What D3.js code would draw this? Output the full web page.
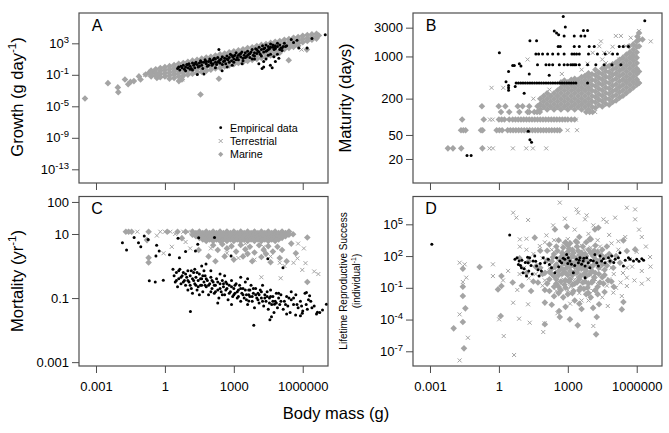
<!DOCTYPE html>
<html><head><meta charset="utf-8">
<script src="https://cdn.jsdelivr.net/npm/d3@7"></script>
<style>
body{margin:0;background:#fff}
svg{display:block}
text{font-family:"Liberation Sans",Arial,sans-serif;fill:#000}
</style>
</head><body><svg id="chart" width="669" height="433"></svg>
<script>
// ---------- DATA (all pairs are [log10 body mass (g), log10 value]) ----------
const massTicks = [0.001, 1, 1000, 1000000];
const massTickLabels = ["0.001", "1", "1000", "1000000"];
const growthTickExp = [3, -1, -5, -9, -13];
const maturityTicks = [3000, 1000, 200, 50, 20];
const mortalityTicks = [100, 10, 0.1, 0.001];
const lrsTickExp = [5, 2, -1, -4, -7];
const seriesNames = ["Empirical data", "Terrestrial", "Marine"];

// Panel A: growth (g/day)
const growthMarine = [
[-3.48,-4.0],[-2.48,-2.06],[-2.05,-2.6],[-2.03,-3.2],[-1.74,-1.6],[-1.6,-2.2],[-1.5,-1.9],[-1.35,-1.8],[-1.13,-1.2],[-1.06,-1.6],[-0.84,-0.97],[-0.7,-0.76],[-0.52,-0.67],[-0.35,-1.4],[-0.26,-1.2],[0.61,-1.8],[0.74,-1.6],[1.55,-3.5],[2.35,-1.5],[5.39,0.85],[6.18,2.2],
[-0.6,-0.45],[-0.6,-0.8],[-0.6,-1.2],[-0.4,-0.3],[-0.4,-0.7],[-0.4,-1.1],[-0.2,-0.15],[-0.2,-0.5],[-0.2,-0.9],[-0.2,-1.3],
[0,0],[0,-0.4],[0,-0.8],[0,-1.2],[0.2,0.1],[0.2,-0.3],[0.2,-0.7],[0.2,-1.1],[0.2,-1.5],[0.4,0.25],[0.4,-0.15],[0.4,-0.55],[0.4,-0.95],[0.4,-1.4],
[0.6,0.4],[0.6,0],[0.6,-0.4],[0.6,-0.8],[0.6,-1.2],[0.8,0.5],[0.8,0.1],[0.8,-0.3],[0.8,-0.7],[0.8,-1.1],[1.0,0.65],[1.0,0.25],[1.0,-0.15],[1.0,-0.55],[1.0,-1.0],
[1.2,0.8],[1.2,0.4],[1.2,0],[1.2,-0.4],[1.2,-0.85],[1.4,0.9],[1.4,0.5],[1.4,0.1],[1.4,-0.3],[1.4,-0.7],[1.6,1.05],[1.6,0.65],[1.6,0.25],[1.6,-0.15],[1.6,-0.6],
[1.8,1.2],[1.8,0.8],[1.8,0.4],[1.8,0],[1.8,-0.5],[2.0,1.3],[2.0,0.9],[2.0,0.5],[2.0,0.1],[2.0,-0.35],[2.2,1.45],[2.2,1.05],[2.2,0.65],[2.2,0.25],[2.2,-0.2],
[2.4,1.6],[2.4,1.2],[2.4,0.8],[2.4,0.4],[2.4,-0.1],[2.6,1.7],[2.6,1.3],[2.6,0.9],[2.6,0.5],[2.6,0.05],[2.8,1.85],[2.8,1.45],[2.8,1.05],[2.8,0.65],[2.8,0.2],
[3.0,2.0],[3.0,1.6],[3.0,1.2],[3.0,0.8],[3.0,0.35],[3.2,2.1],[3.2,1.7],[3.2,1.3],[3.2,0.9],[3.2,0.5],[3.4,2.25],[3.4,1.85],[3.4,1.45],[3.4,1.05],[3.4,0.6],
[3.6,2.4],[3.6,2.0],[3.6,1.6],[3.6,1.2],[3.6,0.75],[3.8,2.5],[3.8,2.1],[3.8,1.7],[3.8,1.3],[3.8,0.9],[4.0,2.65],[4.0,2.25],[4.0,1.85],[4.0,1.45],[4.0,1.0],
[4.2,2.8],[4.2,2.4],[4.2,2.0],[4.2,1.6],[4.2,1.15],[4.4,2.9],[4.4,2.5],[4.4,2.1],[4.4,1.7],[4.4,1.3],[4.6,3.05],[4.6,2.65],[4.6,2.25],[4.6,1.85],[4.6,1.45],
[4.8,3.2],[4.8,2.8],[4.8,2.4],[4.8,2.0],[4.8,1.6],[5.0,3.3],[5.0,2.9],[5.0,2.5],[5.0,2.1],[5.0,1.8],[5.2,3.45],[5.2,3.05],[5.2,2.65],[5.2,2.25],
[5.4,3.55],[5.4,3.15],[5.4,2.75],[5.4,2.4],[5.6,3.7],[5.6,3.3],[5.6,2.9],[5.6,2.55],[5.8,3.8],[5.8,3.4],[5.8,3.0],[5.8,2.7],
[6.0,3.95],[6.0,3.55],[6.0,3.15],[6.2,4.05],[6.2,3.65],[6.2,3.3],[6.4,4.15],[6.4,3.8],[6.4,3.45],[6.6,4.2],[6.6,3.9],[6.6,3.6],[6.7,4.0]
];
const growthTerrestrial = [[0.75,-1.6],[-0.35,-0.9],[5.95,2.2],[1.3,-0.8],[3.5,1.0],[2.0,0.2],[-0.85,-1.0]];
const growthEmpirical = [
[0.55,-0.2],[0.6,0],[0.65,-0.4],[0.7,0.1],[0.75,-0.1],[0.8,0.2],[0.85,-0.3],[0.9,0],[0.95,0.3],[1.0,-0.1],[1.05,0.4],[1.1,0.1],[1.15,-0.2],[1.2,0.5],[1.25,0.2],[1.3,-0.1],[1.35,0.6],[1.4,0.3],[1.45,0],[1.5,0.5],
[1.55,0.8],[1.6,0.2],[1.65,-0.2],[1.7,0.6],[1.75,0.9],[1.8,0.4],[1.85,0.1],[1.9,0.7],[1.95,1.0],[2.0,0.5],[2.05,0.2],[2.1,0.9],[2.15,1.1],[2.2,0.6],[2.25,0.3],[2.3,1.2],[2.35,0.8],[2.4,0.5],[2.45,1.0],[2.5,1.3],
[2.55,0.7],[2.6,1.1],[2.65,0.4],[2.7,1.4],[2.75,0.9],[2.8,1.2],[2.85,1.6],[2.9,0.8],[2.95,1.3],[3.0,1.0],[3.05,1.5],[3.1,1.8],[3.15,1.2],[3.2,0.9],[3.25,1.6],[3.3,1.3],[3.35,1.9],[3.4,1.1],[3.45,1.5],[3.5,1.8],
[3.55,1.3],[3.6,2.0],[3.65,1.6],[3.7,1.2],[3.75,1.9],[3.8,2.2],[3.85,1.5],[3.9,1.8],[3.95,2.3],[4.0,1.7],[4.05,2.0],[4.1,2.5],[4.15,1.6],[4.2,2.2],[4.25,2.7],[4.3,1.9],[4.35,2.4],[4.4,2.8],[4.45,2.1],[4.5,2.6],
[4.55,2.3],[4.6,2.9],[4.7,2.5],[4.75,2.2],[4.8,2.7],[4.9,3.0],[5.0,2.8],[5.05,2.4],[5.15,2.6],[5.2,3.0],[5.3,2.7],
[1.41,-0.97],[1.7,-0.9],[2.49,-0.5],[2.71,0],[2.93,0.2],[3.36,0.4],[4.23,-0.2],[4.3,0],[4.59,0.2],[4.67,-0.1],[4.3,0.7],[4.09,0.4],[4.81,0.7],[4.96,1.1],[4.74,1.3],[5.25,2.6],[4.81,2.4],[5.1,2.4],
[5.83,2.4],[6.19,2.4],[5.75,3.4],[6.98,4.1],[2.35,2.2],[4.5,1.5],[4.4,1.0],[4.9,1.6],[5.6,3.1],[5.5,3.5],[6.4,3.6],
[1.0,0.3],[1.1,-0.3],[1.3,0.4],[1.5,0.1],[1.6,0.6],[1.8,0.7],[1.9,0.2],[2.0,0.8],[2.1,0.4],[2.2,1.0],[2.3,0.6],[2.4,0.9],[2.5,0.3],[2.6,0.8],[2.7,1.0],[2.8,0.6],[2.9,1.5],[3.0,1.4],
[3.1,0.9],[3.2,1.5],[3.3,1.7],[3.4,0.8],[3.5,1.2],[3.6,1.5],[3.7,1.7],[3.8,1.0],[3.9,1.4],[4.0,2.2],[4.1,1.9],[4.2,1.4],[4.3,2.3],[4.4,2.0],[4.5,2.2],[4.6,2.5],[4.7,2.8],[4.8,2.3],
[4.9,2.6],[5.0,2.2],[1.2,-0.4],[0.9,-0.5],[2.2,-0.1],[3.0,0.6],[3.9,1.0],[4.6,1.6],[5.1,2.1]
];

// Panel B: age at maturity (days)
const maturityMarine = [
[-2.22,1.477],[-2.0,1.477],[-1.64,1.477],[-0.72,1.477],
[-1.65,1.778],[-1.55,1.778],[-1.45,1.778],[-0.78,1.778],[-0.71,1.778],[-0.1,1.778],[0.02,1.778],[0.14,1.778],[0.38,1.778],[0.5,1.778],[0.62,1.778],[0.74,1.778],[0.86,1.778],[0.98,1.778],[1.1,1.778],[1.22,1.778],[1.34,1.778],[1.46,1.778],[1.58,1.778],[1.7,1.778],[1.82,1.778],[1.94,1.778],[2.06,1.778],[2.18,1.778],[2.3,1.778],[2.42,1.778],[2.54,1.778],[2.65,1.778],
[-1.6,1.954],[-0.66,1.954],[0,1.954],[0.12,1.954],[0.24,1.954],[0.45,1.954],[0.6,1.954],[0.72,1.954],[0.84,1.954],[0.96,1.954],[1.08,1.954],[1.2,1.954],[1.32,1.954],[1.44,1.954],[1.56,1.954],[1.68,1.954],[1.8,1.954],[1.92,1.954],[2.04,1.954],[2.16,1.954],[2.28,1.954],[2.4,1.954],[2.52,1.954],[2.64,1.954],[2.76,1.954],[2.88,1.954],[3.0,1.954],[3.15,1.954],[3.3,1.954],
[0.09,2.079],[0.45,2.079],[0.89,2.079],[1.25,2.079],[1.32,2.079],[1.54,2.079],[1.66,2.079],[1.78,2.079],[3.8,2.079],[3.95,2.079],[4.08,2.079],
[-0.74,2.176],[-0.01,2.176],[0.28,2.176],[0.82,2.176],[1.03,2.176],[1.32,2.176],[1.68,2.176],
[1.8,2.12],[1.8,2.21],[1.8,2.3],[1.95,2.165],[1.95,2.255],[1.95,2.345],[2.1,2.12],[2.1,2.21],[2.1,2.3],[2.1,2.39],[2.25,2.165],[2.25,2.255],[2.25,2.345],
[2.4,2.12],[2.4,2.21],[2.4,2.3],[2.4,2.39],[2.55,2.165],[2.55,2.255],[2.55,2.345],[2.55,2.435],
[2.7,2.12],[2.7,2.21],[2.7,2.3],[2.7,2.39],[2.7,2.48],[2.7,2.57],[2.85,2.165],[2.85,2.255],[2.85,2.345],[2.85,2.435],[2.85,2.525],[2.85,2.6],
[3.0,2.12],[3.0,2.21],[3.0,2.3],[3.0,2.39],[3.0,2.48],[3.0,2.57],[3.15,2.165],[3.15,2.255],[3.15,2.345],[3.15,2.435],[3.15,2.525],[3.15,2.615],
[3.3,2.12],[3.3,2.21],[3.3,2.3],[3.3,2.39],[3.3,2.48],[3.3,2.57],[3.3,2.63],[3.45,2.165],[3.45,2.255],[3.45,2.345],[3.45,2.435],[3.45,2.525],[3.45,2.615],
[3.6,2.12],[3.6,2.21],[3.6,2.3],[3.6,2.39],[3.6,2.48],[3.6,2.57],[3.6,2.66],[3.75,2.165],[3.75,2.255],[3.75,2.345],[3.75,2.435],[3.75,2.525],[3.75,2.615],[3.75,2.68],
[3.9,2.12],[3.9,2.21],[3.9,2.3],[3.9,2.39],[3.9,2.48],[3.9,2.57],[3.9,2.66],[3.9,2.72],[4.05,2.165],[4.05,2.255],[4.05,2.345],[4.05,2.435],[4.05,2.525],[4.05,2.615],[4.05,2.705],
[4.2,2.15],[4.2,2.24],[4.2,2.33],[4.2,2.42],[4.2,2.51],[4.2,2.6],[4.2,2.69],[4.2,2.78],[4.35,2.195],[4.35,2.285],[4.35,2.375],[4.35,2.465],[4.35,2.555],[4.35,2.645],[4.35,2.735],
[4.5,2.17],[4.5,2.26],[4.5,2.35],[4.5,2.44],[4.5,2.53],[4.5,2.62],[4.5,2.71],[4.5,2.8],[4.65,2.215],[4.65,2.305],[4.65,2.395],[4.65,2.485],[4.65,2.575],[4.65,2.665],[4.65,2.755],[4.65,2.82],
[4.8,2.2],[4.8,2.29],[4.8,2.38],[4.8,2.47],[4.8,2.56],[4.8,2.65],[4.8,2.74],[4.8,2.84],[4.95,2.245],[4.95,2.335],[4.95,2.425],[4.95,2.515],[4.95,2.605],[4.95,2.695],[4.95,2.785],[4.95,2.87],
[5.1,2.27],[5.1,2.36],[5.1,2.45],[5.1,2.54],[5.1,2.63],[5.1,2.72],[5.1,2.81],[5.1,2.9],[5.25,2.315],[5.25,2.405],[5.25,2.495],[5.25,2.585],[5.25,2.675],[5.25,2.765],[5.25,2.855],[5.25,2.945],
[5.4,2.35],[5.4,2.44],[5.4,2.53],[5.4,2.62],[5.4,2.71],[5.4,2.8],[5.4,2.89],[5.4,2.98],[5.55,2.395],[5.55,2.485],[5.55,2.575],[5.55,2.665],[5.55,2.755],[5.55,2.845],[5.55,2.935],[5.55,3.03],
[5.7,2.44],[5.7,2.53],[5.7,2.62],[5.7,2.71],[5.7,2.8],[5.7,2.89],[5.7,2.98],[5.7,3.07],[5.85,2.485],[5.85,2.575],[5.85,2.665],[5.85,2.755],[5.85,2.845],[5.85,2.935],[5.85,3.025],[5.85,3.115],[5.85,3.2],
[6.0,2.53],[6.0,2.62],[6.0,2.71],[6.0,2.8],[6.0,2.89],[6.0,2.98],[6.0,3.07],[6.0,3.16],[6.0,3.25],
[6.1,2.56],[6.1,2.75],[6.1,3.17],[6.1,3.28],[6.1,3.39],[6.25,3.28],[6.03,3.33],[5.82,3.0],[5.96,2.75],[6.08,2.56],[5.67,3.17]
];
const maturityTerrestrial = [
[-0.41,1.477],[-0.26,1.477],[0.61,1.477],[1.19,1.477],[1.48,1.477],[2.06,1.477],[2.99,1.778],[3.4,1.778],[3.35,1.954],[-0.27,1.954],[-0.39,1.954],[4.19,2.079],
[-0.32,2.48],[0.19,2.48],[1.25,2.95],[2.74,2.71],[4.44,3.25],[5.09,3.34],[5.31,3.34],[5.74,3.31],[4.37,3.17],[4.58,3.06],[4.95,3.16],[4.8,3.06],[4.08,3.06],[3.86,2.88],
[4.66,2.89],[4.92,2.86],[5.24,2.95],[6.1,3.42],[6.61,3.25],[5.53,3.17],[5.82,3.06],[3.6,2.78],[2.2,2.45],[1.5,2.3],[5.0,2.7],[4.5,2.95]
];
const maturityEmpirical = [
[0.75,2.562],[0.85,2.562],[0.95,2.562],[1.05,2.562],[1.15,2.562],[1.25,2.562],[1.35,2.562],[1.45,2.562],[1.55,2.562],[1.65,2.562],[1.75,2.562],[1.85,2.562],[1.95,2.562],[2.05,2.562],
[2.15,2.562],[2.25,2.562],[2.35,2.562],[2.45,2.562],[2.55,2.562],[2.65,2.562],[2.75,2.562],[2.85,2.562],[2.95,2.562],[3.05,2.562],[3.15,2.562],[3.25,2.562],[3.35,2.562],[3.86,2.562],
[1.68,2.863],[2.05,2.863],[2.19,2.863],[2.34,2.863],[2.63,2.863],[2.84,2.863],[2.99,2.863],[3.13,2.863],[3.21,2.863],[3.28,2.863],[3.35,2.863],[3.5,2.863],[3.86,2.863],[4.22,2.863],[4.58,2.863],[4.92,2.863],[5.31,2.863],
[1.61,3.039],[1.73,3.039],[1.9,3.039],[2.12,3.039],[2.34,3.039],[2.58,3.039],[2.84,3.039],[3.18,3.039],[3.28,3.039],[3.38,3.039],[3.5,3.039],[3.9,3.039],[4.29,3.039],[4.63,3.039],[4.95,3.039],[5.16,3.039],
[2.58,3.164],[2.67,3.164],[3.28,3.164],[3.5,3.164],[3.93,3.164],[4.15,3.164],[5.24,3.164],[5.41,3.164],[5.64,3.164],
[1.35,3.261],[1.64,3.261],[2.84,3.34],[3.28,3.34],[3.57,3.34],[3.74,3.34],[2.6,3.36],[3.68,3.43],[3.86,3.43],[2.41,3.42],
[2.8,3.66],[2.89,3.49],[2.51,3.39],[6.35,3.59],[0.02,3.06],[0.42,2.75],[0.6,2.85],[0.67,2.85],[0.89,2.88],[0.96,2.84],[1.32,2.71],[2.19,2.69],
[0.31,2.58],[0.42,2.52],[0.42,2.48],[0.42,2.44],[0.71,2.5],[1.1,2.39],[1.28,1.76],[1.35,1.62],[1.42,1.58],[-1.39,1.36],[-1.21,1.36]
];

// Panel C: mortality (1/yr)
const mortalityMarine = [
[-1.7,1.07],[-1.58,1.07],[-1.45,1.07],[-0.71,1.07],[0.1,1.07],[0.55,1.07],[0.9,1.07],[-0.78,0.81],[-0.71,0.26],[-0.71,0.11],[0.74,0.87],[1.47,0.5],[1.9,0.3],
[1.2,1.08],[1.2,0.98],[1.35,1.03],[1.35,0.93],[1.5,1.08],[1.5,0.98],[1.5,0.88],[1.65,1.03],[1.65,0.93],[1.65,0.83],
[1.8,1.08],[1.8,0.98],[1.8,0.88],[1.8,0.78],[1.95,1.03],[1.95,0.93],[1.95,0.83],[2.1,1.08],[2.1,0.98],[2.1,0.88],[2.1,0.78],[2.25,1.03],[2.25,0.93],[2.25,0.83],
[2.4,1.08],[2.4,0.98],[2.4,0.88],[2.4,0.78],[2.55,1.03],[2.55,0.93],[2.55,0.83],[2.7,1.08],[2.7,0.98],[2.7,0.88],[2.7,0.78],[2.85,1.03],[2.85,0.93],[2.85,0.83],
[3.0,1.08],[3.0,0.98],[3.0,0.88],[3.0,0.78],[3.15,1.03],[3.15,0.93],[3.15,0.83],[3.3,1.08],[3.3,0.98],[3.3,0.88],[3.3,0.78],[3.45,1.03],[3.45,0.93],[3.45,0.83],
[3.6,1.08],[3.6,0.98],[3.6,0.88],[3.6,0.78],[3.75,1.03],[3.75,0.93],[3.75,0.83],[3.9,1.08],[3.9,0.98],[3.9,0.88],[3.9,0.78],[4.05,1.03],[4.05,0.93],[4.05,0.83],
[4.2,1.08],[4.2,0.98],[4.2,0.88],[4.2,0.78],[4.35,1.03],[4.35,0.93],[4.35,0.83],[4.5,1.08],[4.5,0.98],[4.5,0.88],[4.5,0.78],[4.65,1.03],[4.65,0.93],[4.65,0.83],
[4.8,1.08],[4.8,0.98],[4.8,0.88],[4.8,0.78],[4.95,1.03],[4.95,0.93],[4.95,0.83],[5.1,1.08],[5.1,0.98],[5.1,0.88],[5.25,1.03],[5.25,0.93],[5.4,1.08],[5.4,0.98],
[5.58,0.99],[6.2,0.89],[6.2,-0.5],
[2.1,0.65],[2.3,0.5],[2.5,0.68],[2.7,0.55],[2.9,0.62],[3.1,0.45],[3.3,0.66],[3.5,0.52],[3.7,0.6],[3.9,0.42],[4.1,0.65],[4.3,0.5],[4.5,0.62],[4.7,0.45],[4.9,0.6],[5.1,0.5],
[2.6,0.3],[3.0,0.2],[3.4,0.3],[3.8,0.15],[4.2,0.28],[4.6,0.12],[5.0,0.25],[5.3,0.15],[4.4,0.38],[3.6,0.38],[2.2,0.15],[5.5,0.7],[5.7,0.4]
];
const mortalityTerrestrial = [
[-1.2,1.07],[-0.2,1.07],[0,1.07],[0.24,1.07],[0.45,1.0],[0.8,1.07],[1.0,1.07],[-0.35,0.95],[-0.06,0.4],[0.3,0.6],[0.9,0.75],[1.1,0.55],
[6.05,0.55],[6.12,0.09],[5.98,-0.12],[6.5,-0.17],[6.68,-0.25],[5.77,0.24],[5.04,-0.38],[5.21,0],[4.2,-0.35],[5.8,0.7],[5.0,0.1],[4.6,0.3],[3.9,0.2],[3.2,0.25],
[2.0,0.55],[2.7,0.4],[3.5,0.7],[4.3,0.6],[5.6,0.1]
];
const mortalityEmpirical = [
[-1.85,0.73],[-1.67,0.5],[-1.34,0.89],[-1.15,0.73],[-1.05,0.6],[-0.9,0.94],[-0.73,0.83],[-0.36,0.65],[-0.39,0.31],[-0.25,0.47],[0.57,0.87],[0.63,0.26],[1.33,0.47],[1.43,0.68],[1.79,0.06],
[2.16,0.89],[2.88,0.31],[4.48,0.23],[5.14,-0.05],[-0.68,-0.46],[-0.42,-0.5],[-0.07,-0.44],[1.11,-1.42],[3.87,-1.85],[6.74,-1.45],[7.03,-1.19],[4.77,-1.19],[1.47,0.88],[0.2,0.35],[0.9,0.45],
[4.57,-1.68],[4.64,-1.58],[5.69,-1.53],[5.98,-1.47],[6.64,-1.44],[6.86,-1.37],[3.65,-1.09],
[0.35,-0.1],[0.4,-0.3],[0.45,-0.5],[0.5,-0.2],[0.55,-0.65],[0.6,-0.4],[0.65,-0.1],[0.7,-0.55],[0.75,-0.3],[0.8,-0.2],[0.85,-0.45],[0.9,-0.6],[0.95,-0.35],[1.0,-0.15],
[1.05,-0.5],[1.1,-0.3],[1.15,-0.7],[1.2,-0.4],[1.25,-0.2],[1.3,-0.55],[1.35,-0.35],[1.4,-0.75],[1.45,-0.45],[1.5,-0.25],[1.55,-0.6],[1.6,-0.4],[1.65,-0.8],[1.7,-0.5],[1.75,-0.3],
[1.8,-0.65],[1.85,-0.45],[1.9,-0.9],[1.95,-0.55],[2.0,-0.35],[1.3,-0.1],[1.5,-0.9],[1.2,-0.85],[1.7,-0.15],[1.0,-0.75],
[2.05,-0.7],[2.1,-0.5],[2.15,-0.85],[2.2,-0.6],[2.25,-0.4],[2.3,-0.75],[2.35,-1.0],[2.4,-0.55],[2.45,-0.8],[2.5,-0.45],[2.55,-0.65],[2.6,-0.9],[2.65,-0.5],[2.7,-0.7],[2.75,-1.05],
[2.8,-0.6],[2.85,-0.8],[2.9,-0.45],[2.95,-0.95],[3.0,-0.7],[2.6,-0.3],[2.3,-1.15],[2.9,-1.2],
[3.05,-0.85],[3.1,-0.55],[3.15,-1.0],[3.2,-0.75],[3.25,-0.6],[3.3,-1.1],[3.35,-0.85],[3.4,-0.7],[3.45,-1.0],[3.5,-0.5],[3.55,-0.9],[3.6,-1.2],[3.65,-0.75],[3.7,-0.95],[3.75,-0.6],
[3.8,-1.1],[3.85,-0.85],[3.9,-1.3],[3.95,-0.7],[4.0,-1.0],[3.3,-0.35],[3.6,-0.4],
[4.05,-0.85],[4.1,-1.15],[4.15,-0.75],[4.2,-1.0],[4.25,-0.6],[4.3,-1.25],[4.35,-0.9],[4.4,-1.1],[4.45,-0.8],[4.5,-1.35],[4.55,-1.0],[4.6,-0.75],[4.65,-1.2],[4.7,-0.95],[4.75,-1.45],
[4.8,-1.1],[4.85,-0.85],[4.9,-1.3],[4.95,-1.0],[5.0,-1.2],
[5.05,-0.9],[5.15,-1.35],[5.2,-1.1],[5.3,-0.95],[5.35,-1.25],[5.45,-1.45],[5.5,-1.05],[5.6,-1.2],[5.7,-0.9],[5.8,-1.3],[5.9,-1.1],[6.0,-1.4],[6.1,-0.85],[6.15,-1.2],[6.25,-1.05],[6.3,-0.93],[6.4,-1.3],[6.16,-0.83],[5.5,-0.8],
[0.5,-0.45],[0.6,-0.15],[0.7,-0.35],[0.8,-0.5],[0.9,-0.25],[1.0,-0.45],[1.1,-0.6],[1.15,-0.15],[1.25,-0.45],[1.35,-0.6],[1.4,-0.2],[1.45,-0.65],[1.55,-0.4],[1.6,-0.6],[1.65,-0.3],
[1.75,-0.6],[1.8,-0.4],[1.9,-0.6],[2.0,-0.8],[2.05,-0.45],[2.15,-0.6],[2.2,-0.8],[2.3,-0.5],[2.4,-0.7],[2.5,-0.9],[2.55,-0.55],[2.65,-0.75],[2.7,-0.55],[2.8,-0.85],[2.9,-0.65],
[3.0,-0.9],[3.05,-0.6],[3.15,-0.8],[3.2,-0.95],[3.3,-0.7],[3.4,-0.9],[3.5,-0.75],[3.55,-1.05],[3.65,-0.9],[3.7,-0.75],[3.8,-0.95],[3.85,-0.7],[3.95,-0.9],[4.05,-1.05],[4.1,-0.9],
[4.2,-0.8],[4.25,-1.1],[4.35,-1.0],[4.45,-0.95],[4.55,-1.15],[4.6,-0.95],[4.7,-1.1],[4.85,-1.15],[4.95,-0.85],[5.05,-1.1],[5.25,-1.2],[5.4,-1.0],[5.6,-1.0],[5.75,-1.2],[5.95,-1.25],
[6.2,-1.35],[6.35,-1.1],[6.5,-1.25],[6.6,-1.5],[5.3,-1.5],[5.9,-1.55],[2.0,-0.15],[2.4,-0.25],[1.6,0.0]
];

// Panel D: lifetime reproductive success (per individual)
const lrsMarine = [
[-1.57,0.81],[-1.57,-0.89],[-1.57,-1.78],[-1.46,-2.94],[-1.57,-4.23],[-1.52,-6.72],[-1.97,-4.83],[-0.84,0.96],[0.11,0.11],[-0.04,-1.15],[0.11,-0.83],[1.56,3.74],[2.44,4.52],[2.95,4.78],
[4.18,4.52],[4.33,4.68],[5.93,2.63],[5.57,2.48],[5.42,3.48],[5.27,1.37],[4.98,0.9],[5.42,-2.34],[5.35,-3.04],[4.36,-2.56],[4.26,-3.76],[4.23,-5.4],[3.43,-4.55],[3.09,-3.98],[2.65,-3.76],[2.62,-3.19],[0.08,-3.67],[2.0,-4.45],
[1.6,1.0],[1.7,-0.5],[1.8,2.5],[1.9,0.3],[2.0,-1.2],[2.1,1.6],[2.2,3.1],[2.2,-0.2],[2.3,0.8],[2.4,-1.8],[2.4,2.2],[2.5,1.2],[2.5,-0.6],[2.6,3.5],[2.6,0.2],[2.7,1.9],[2.7,-1.2],[2.8,2.8],[2.8,0.7],
[2.9,-0.3],[2.9,1.5],[3.0,2.4],[3.0,-1.6],[3.0,0.2],[3.1,3.2],[3.1,1.0],[3.2,-0.7],[3.2,2.0],[3.3,0.5],[3.3,-2.2],[3.4,2.9],[3.4,1.3],[3.5,-0.2],[3.5,3.8],[3.6,0.8],[3.6,2.3],[3.7,-1.1],
[3.7,1.6],[3.8,0.1],[3.8,3.3],[3.9,-0.6],[3.9,2.6],[4.0,1.0],[4.0,-1.9],[4.1,2.0],[4.2,0.4],[4.2,3.0],[4.3,-0.9],[4.4,1.6],[4.5,2.6],[4.5,0],[4.6,-1.4],[4.7,1.1],[4.8,2.2],[4.9,-0.4],
[2.3,-2.6],[2.9,-2.8],[3.6,-3.0],[4.1,-2.9],[1.4,-1.3],[1.2,0.4],[2.0,-2.4],[1.0,-0.8],[0.6,-0.5],[0.9,1.8],
[1.8,0.9],[2.0,0.4],[2.1,2.5],[2.3,1.5],[2.4,0.1],[2.5,2.9],[2.6,-0.9],[2.7,0.9],[2.75,2.3],[2.85,-0.7],[2.9,0.4],[3.0,1.1],[3.0,3.0],[3.05,-0.4],[3.1,1.8],[3.15,0.5],[3.2,2.6],
[3.25,-1.3],[3.3,1.4],[3.35,3.4],[3.4,-0.5],[3.45,0.8],[3.5,2.1],[3.55,-1.0],[3.6,1.3],[3.65,2.9],[3.7,0.3],[3.75,-0.4],[3.8,2.0],[3.85,1.0],[3.9,-1.5],[3.95,3.6],[4.05,0.6],[4.1,-0.3],
[4.15,2.5],[4.25,1.3],[4.3,-1.6],[4.35,0.9],[4.45,2.1],[4.55,-0.6],[4.6,0.7],[4.7,2.9],[4.85,1.5],[5.0,-0.9],[5.1,2.0],[2.2,-1.3],[2.8,-1.9],[3.5,-2.5],[1.5,-0.4],[1.3,1.5],
[2.3,0.3],[2.35,1.9],[2.45,1.0],[2.5,-0.2],[2.55,2.5],[2.6,0.6],[2.65,1.6],[2.7,-0.4],[2.75,0.3],[2.8,1.3],[2.85,2.1],[2.9,-1.0],[2.95,0.9],[3.0,1.8],[3.05,2.7],[3.1,-0.2],[3.1,0.6],
[3.15,1.4],[3.2,0.2],[3.25,2.3],[3.3,-0.6],[3.3,1.0],[3.35,1.8],[3.4,0.4],[3.45,2.5],[3.5,-1.2],[3.5,1.0],[3.55,0.1],[3.6,1.9],[3.65,-0.5],[3.7,0.9],[3.75,2.2],[3.8,0.6],[3.85,-1.0],
[3.9,1.5],[3.95,0.3],[4.0,2.3],[4.05,-0.5],[4.1,1.1],[4.15,0.0],[4.2,1.7],[4.3,2.4],[4.35,0.3],[4.4,-0.5],[4.5,1.2],[4.6,0.2],[4.65,1.9],[4.75,-0.3],[2.4,-0.9],[2.6,-1.5],[3.2,-1.5],
[3.8,-1.6],[4.2,-1.2],[2.2,0.5],[2.1,-0.6],[3.4,3.3],[2.9,3.3],[4.0,3.6]
];
const lrsTerrestrial = [
[-1.71,1.37],[-1.49,1.22],[-1.42,-0.04],[-1.57,-0.45],[-1.71,-3.51],[-1.71,-7.86],[-1.35,-5.72],[-0.26,1.22],[-0.26,0.11],[0.18,-0.3],
[0.62,6.1],[0.76,5.63],[1.27,5.41],[0.91,3.58],[0.91,2.89],[1.2,3.64],[1.78,2.95],[2.07,3.96],[2.36,4.9],[2.65,7.05],[2.87,5.53],[3.38,6.41],[3.45,6.1],[3.75,5.47],[3.82,5.85],[4.11,4.9],
[4.55,5.47],[4.69,5.22],[5.06,5.63],[5.57,6.57],[5.93,6.41],[5.93,5.47],[6.22,3.8],[6.58,1.91],[6.22,0.59],[6.22,-0.61],[5.57,0.9],[5.57,-0.04],[5.57,-0.83],[5.35,-1.78],[4.98,-1.46],
[4.74,-2.72],[4.11,-4.61],[1.99,-4.36],[1.93,-5.18],[1.34,-4.3],[1.27,-2.56],[0.62,-2.41],[0.88,-3.92],[0.01,-3.98],[0.21,-5.56],[0.66,-7.35],[2.55,-3.4],[3.1,-2.5],[3.9,-2.2],
[1.5,2.2],[1.7,1.2],[1.9,-0.8],[2.1,0.5],[2.3,2.6],[2.5,-1.3],[2.6,1.5],[2.8,-0.2],[3.0,3.6],[3.1,-0.9],[3.2,2.6],[3.4,0],[3.5,-1.5],[3.6,3.0],[3.8,1.3],[3.9,-1.0],[4.0,2.8],
[4.2,-0.2],[4.3,3.5],[4.4,0.8],[4.6,2.0],[4.7,-0.8],[4.9,3.2],[5.0,0.3],[5.2,2.6],[5.3,-0.5],[5.5,3.8],[5.8,1.0],[6.0,2.4],[6.4,2.9],[6.5,-0.2],[1.1,0.9],[0.8,-1.2],[1.3,-0.1],[0.4,0.6],[3.3,4.5],[2.0,3.3],[4.8,4.0],
[1.6,0.3],[1.9,1.8],[2.0,-0.3],[2.2,0.9],[2.4,3.5],[2.5,0.6],[2.7,-0.6],[2.8,3.2],[2.9,1.0],[3.0,-1.2],[3.1,2.2],[3.3,-0.2],[3.4,1.8],[3.5,0.6],[3.6,-2.2],[3.7,2.6],[3.8,-0.5],[3.9,4.1],
[4.0,0.2],[4.1,-1.3],[4.2,1.9],[4.3,-0.7],[4.4,2.9],[4.5,-1.9],[4.6,1.3],[4.8,-0.2],[4.9,0.9],[5.1,-1.0],[5.2,3.4],[5.4,0.4],[5.7,1.7],[5.9,-0.3],[6.1,4.5],[6.6,1.0],[1.2,2.6],[0.9,0.3]
];
const lrsEmpirical = [
[-2.92,3.11],[0.47,3.99],
[0.79,1.85],[0.88,1.53],[0.94,1.12],[0.98,0.9],[1.05,0.43],[1.2,0.11],[1.27,1.37],[1.34,1.85],[1.49,1.53],[1.56,2.0],[1.64,1.06],[1.75,0.11],[1.85,0.59],[1.93,1.85],[2.0,1.37],[2.15,1.69],
[2.29,0.9],[2.44,0.43],[2.51,1.85],[2.65,1.53],[2.73,1.37],[2.87,1.69],[2.95,2.16],[3.02,1.85],[3.09,1.53],[3.16,1.22],[3.24,0.43],[3.38,1.69],[3.46,1.37],[3.53,1.85],[3.6,1.22],[3.67,1.53],
[3.75,1.06],[3.82,1.85],[3.89,1.37],[3.96,0.9],[4.11,1.53],[4.18,2.16],[4.26,1.37],[4.33,1.06],[4.4,2.0],[4.47,1.53],[4.62,1.37],[4.77,1.85],[4.84,1.53],[4.91,2.0],[5.06,1.69],[5.2,1.85],
[5.27,2.32],[5.42,1.06],[5.64,1.85],[5.71,1.69],[5.86,1.53],[6.0,1.69],[6.22,1.75],[3.75,-0.04],
[0.85,1.2],[1.0,1.6],[1.1,0.8],[1.15,1.4],[1.3,0.6],[1.4,1.1],[1.45,0.3],[1.6,1.5],[1.7,0.7],[1.8,1.3],[0.7,1.7],[1.25,1.9],[2.2,1.2],[2.6,1.0],[2.8,1.8],[3.3,1.1],[3.7,1.8],
[4.0,1.6],[4.55,1.75],[5.0,1.4],[5.5,1.6],[6.1,1.5],[6.3,1.6],[3.0,1.3],[3.5,1.6]
];

// ---------- DRAWING ----------
const svg = d3.select("#chart");
const GRAY = "#a4a4a4";
const BOX = "#4d4d4d";
const xDom = [Math.pow(10, -3.74), Math.pow(10, 7.1)];
const p10 = v => Math.pow(10, v);

const panels = [
  {letter:"A", x0:79, x1:328, y0:13, y1:183, yDom:[p10(-14.74), p10(6.85)],
   ticks:growthTickExp.map(p10), sup:growthTickExp, emp:growthEmpirical, ter:growthTerrestrial, mar:growthMarine, xLabels:false},
  {letter:"B", x0:413, x1:662, y0:13, y1:183, yDom:[p10(0.903), p10(3.72)],
   ticks:maturityTicks, sup:null, emp:maturityEmpirical, ter:maturityTerrestrial, mar:maturityMarine, xLabels:false},
  {letter:"C", x0:79, x1:328, y0:196.5, y1:366, yDom:[p10(-3.12), p10(2.17)],
   ticks:mortalityTicks, sup:null, emp:mortalityEmpirical, ter:mortalityTerrestrial, mar:mortalityMarine, xLabels:true},
  {letter:"D", x0:413, x1:662, y0:196.5, y1:366, yDom:[p10(-8.39), p10(7.63)],
   ticks:lrsTickExp.map(p10), sup:lrsTickExp, emp:lrsEmpirical, ter:lrsTerrestrial, mar:lrsMarine, xLabels:true}
];

const diamond = "M0,-3.3L3.3,0L0,3.3L-3.3,0Z";
const cross = "M-2,-2L2,2M-2,2L2,-2";

panels.forEach((p, i) => {
  const x = d3.scaleLog().domain(xDom).range([p.x0, p.x1]);
  const y = d3.scaleLog().domain(p.yDom).range([p.y1, p.y0]);
  const g = svg.append("g");
  const clipId = "clip" + i;
  svg.append("clipPath").attr("id", clipId).append("rect")
    .attr("x", p.x0).attr("y", p.y0).attr("width", p.x1 - p.x0).attr("height", p.y1 - p.y0);
  const pts = g.append("g").attr("clip-path", `url(#${clipId})`);

  pts.selectAll("path.mar").data(p.mar).join("path").attr("class","mar")
    .attr("d", diamond).attr("fill", GRAY)
    .attr("transform", d => `translate(${x(p10(d[0]))},${y(p10(d[1]))})`);
  pts.selectAll("path.ter").data(p.ter).join("path").attr("class","ter")
    .attr("d", cross).attr("stroke", GRAY).attr("stroke-width", 1).attr("fill", "none")
    .attr("transform", d => `translate(${x(p10(d[0]))},${y(p10(d[1]))})`);
  pts.selectAll("circle.emp").data(p.emp).join("circle").attr("class","emp")
    .attr("r", 1.5).attr("fill", "#000")
    .attr("cx", d => x(p10(d[0]))).attr("cy", d => y(p10(d[1])));

  g.append("rect").attr("x", p.x0).attr("y", p.y0).attr("width", p.x1 - p.x0).attr("height", p.y1 - p.y0)
    .attr("fill", "none").attr("stroke", BOX).attr("stroke-width", 1.2);

  const xa = g.append("g").attr("transform", `translate(0,${p.y1})`)
    .call(d3.axisBottom(x).tickValues(massTicks).tickSize(7).tickSizeOuter(0)
      .tickFormat((d, k) => p.xLabels ? massTickLabels[k] : "").tickPadding(9));
  xa.select(".domain").remove();
  xa.selectAll("line").attr("stroke", BOX);
  xa.selectAll("text").attr("font-size", 13).attr("font-family", '"Liberation Sans",Arial,sans-serif').attr("fill", "#000");

  const ya = g.append("g").attr("transform", `translate(${p.x0},0)`)
    .call(d3.axisLeft(y).tickValues(p.ticks).tickSize(7).tickSizeOuter(0).tickPadding(3)
      .tickFormat(d => p.sup ? "" : (d >= 1 ? String(d) : String(+d.toPrecision(1)))));
  ya.select(".domain").remove();
  ya.selectAll("line").attr("stroke", BOX);
  ya.selectAll("text").attr("font-size", 13).attr("font-family", '"Liberation Sans",Arial,sans-serif').attr("fill", "#000");
  if (p.sup) {
    ya.selectAll(".tick text").each(function(d, k) {
      const t = d3.select(this);
      t.text(null);
      t.append("tspan").text("10");
      t.append("tspan").attr("font-size", 9.5).attr("dy", "-0.55em").text(String(p.sup[k]));
    });
  }

  g.append("text").attr("x", p.x0 + 18).attr("y", p.y0 + 17.5)
    .attr("text-anchor", "middle").attr("font-size", 16).text(p.letter);
});

function vtitle(xc, yc, parts, size) {
  const t = svg.append("text").attr("transform", `translate(${xc},${yc}) rotate(-90)`)
    .attr("text-anchor", "middle").attr("font-size", size);
  parts.forEach(pt => {
    const s = t.append("tspan").text(pt.t);
    if (pt.sup) s.attr("font-size", size * 0.7).attr("dy", -size * 0.4);
    if (pt.back) s.attr("dy", size * 0.4);
  });
  return t;
}
vtitle(23, 97, [{t:"Growth (g day"},{t:"-1", sup:true},{t:")", back:true}], 16.5);
vtitle(351, 98, [{t:"Maturity (days)"}], 16.5);
vtitle(23, 281, [{t:"Mortality (yr"},{t:"-1", sup:true},{t:")", back:true}], 16.5);
vtitle(347, 281, [{t:"Lifetime Reproductive Success"}], 10);
vtitle(360, 281, [{t:"(individual"},{t:"-1", sup:true},{t:")", back:true}], 10);

svg.append("text").attr("x", 336).attr("y", 419).attr("text-anchor", "middle")
  .attr("font-size", 16.5).text("Body mass (g)");

const lg = svg.append("g");
const lx = 220.7, ly = [127.7, 141, 154.3];
lg.append("circle").attr("cx", lx).attr("cy", ly[0]).attr("r", 1.4).attr("fill", "#000");
lg.append("path").attr("d", cross).attr("stroke", GRAY).attr("fill", "none")
  .attr("transform", `translate(${lx},${ly[1]})`);
lg.append("path").attr("d", "M0,-2.6L2.6,0L0,2.6L-2.6,0Z").attr("fill", GRAY)
  .attr("transform", `translate(${lx},${ly[2]})`);
seriesNames.forEach((n, k) => {
  lg.append("text").attr("x", 230).attr("y", ly[k] + 3.8).attr("font-size", 10.7).text(n);
});
</script>
</body></html>
